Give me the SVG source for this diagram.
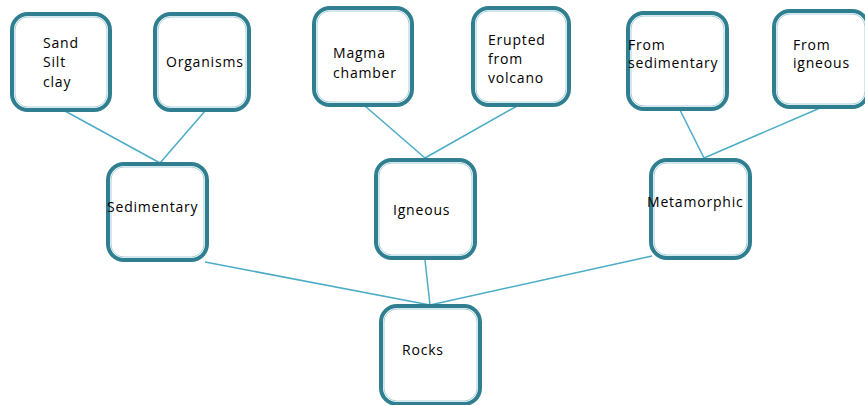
<svg xmlns="http://www.w3.org/2000/svg" width="865" height="405" viewBox="0 0 865 405">
<style>
.box{fill:#fff;stroke:#2f7f91;stroke-width:4}
.inner{fill:none;stroke:#a8d0da;stroke-width:1}
.lbl{font-family:"Open Sans","DejaVu Sans",sans-serif;font-size:14px;letter-spacing:0.8px;fill:#000}
.con line{stroke:#4bacc6;stroke-width:1.5}
</style>
<rect width="865" height="405" fill="#fff"/>
<g class="con">
<line x1="65" y1="111" x2="160" y2="163"/>
<line x1="205" y1="111" x2="160" y2="163"/>
<line x1="365" y1="106" x2="425" y2="158"/>
<line x1="517" y1="106" x2="425" y2="158"/>
<line x1="680" y1="110" x2="704" y2="158"/>
<line x1="820" y1="108" x2="704" y2="158"/>
<line x1="205" y1="262" x2="430" y2="305"/>
<line x1="425" y1="260" x2="430" y2="305"/>
<line x1="652" y1="256" x2="430" y2="305"/>
</g>
<g id="sand"><rect class="box" x="12" y="14" width="98" height="96" rx="16"/><rect class="inner" x="15" y="17" width="92" height="90" rx="13"/><text class="lbl" x="43"><tspan x="43" y="48">Sand</tspan><tspan x="43" y="67">Silt</tspan><tspan x="43" y="87">clay</tspan></text></g>
<g id="organisms"><rect class="box" x="155" y="14" width="94" height="96" rx="16"/><rect class="inner" x="158" y="17" width="88" height="90" rx="13"/><text class="lbl" x="166" y="67">Organisms</text></g>
<g id="magma"><rect class="box" x="314" y="8" width="98" height="97" rx="16"/><rect class="inner" x="317" y="11" width="92" height="91" rx="13"/><text class="lbl"><tspan x="333" y="58">Magma</tspan><tspan x="333" y="78">chamber</tspan></text></g>
<g id="erupted"><rect class="box" x="473" y="8" width="96" height="97" rx="16"/><rect class="inner" x="476" y="11" width="90" height="91" rx="13"/><text class="lbl"><tspan x="488" y="45">Erupted</tspan><tspan x="488" y="64">from</tspan><tspan x="488" y="83">volcano</tspan></text></g>
<g id="fromsed"><rect class="box" x="628" y="13" width="99" height="96" rx="16"/><rect class="inner" x="631" y="16" width="93" height="90" rx="13"/><text class="lbl"><tspan x="628" y="50">From</tspan><tspan x="628" y="68">sedimentary</tspan></text></g>
<g id="fromign"><rect class="box" x="774" y="11" width="94" height="96" rx="16"/><rect class="inner" x="777" y="14" width="88" height="90" rx="13"/><text class="lbl"><tspan x="793" y="50">From</tspan><tspan x="793" y="68">igneous</tspan></text></g>
<g id="sedimentary"><rect class="box" x="108" y="164" width="99" height="96" rx="16"/><rect class="inner" x="111" y="167" width="93" height="90" rx="13"/><text class="lbl" x="107" y="212">Sedimentary</text></g>
<g id="igneous"><rect class="box" x="376" y="160" width="99" height="98" rx="16"/><rect class="inner" x="379" y="163" width="93" height="92" rx="13"/><text class="lbl" x="393" y="215">Igneous</text></g>
<g id="metamorphic"><rect class="box" x="651" y="160" width="99" height="98" rx="16"/><rect class="inner" x="654" y="163" width="93" height="92" rx="13"/><text class="lbl" x="647" y="207">Metamorphic</text></g>
<g id="rocks"><rect class="box" x="381" y="306" width="99" height="98" rx="16"/><rect class="inner" x="384" y="309" width="93" height="92" rx="13"/><text class="lbl" x="402" y="355">Rocks</text></g>
</svg>
